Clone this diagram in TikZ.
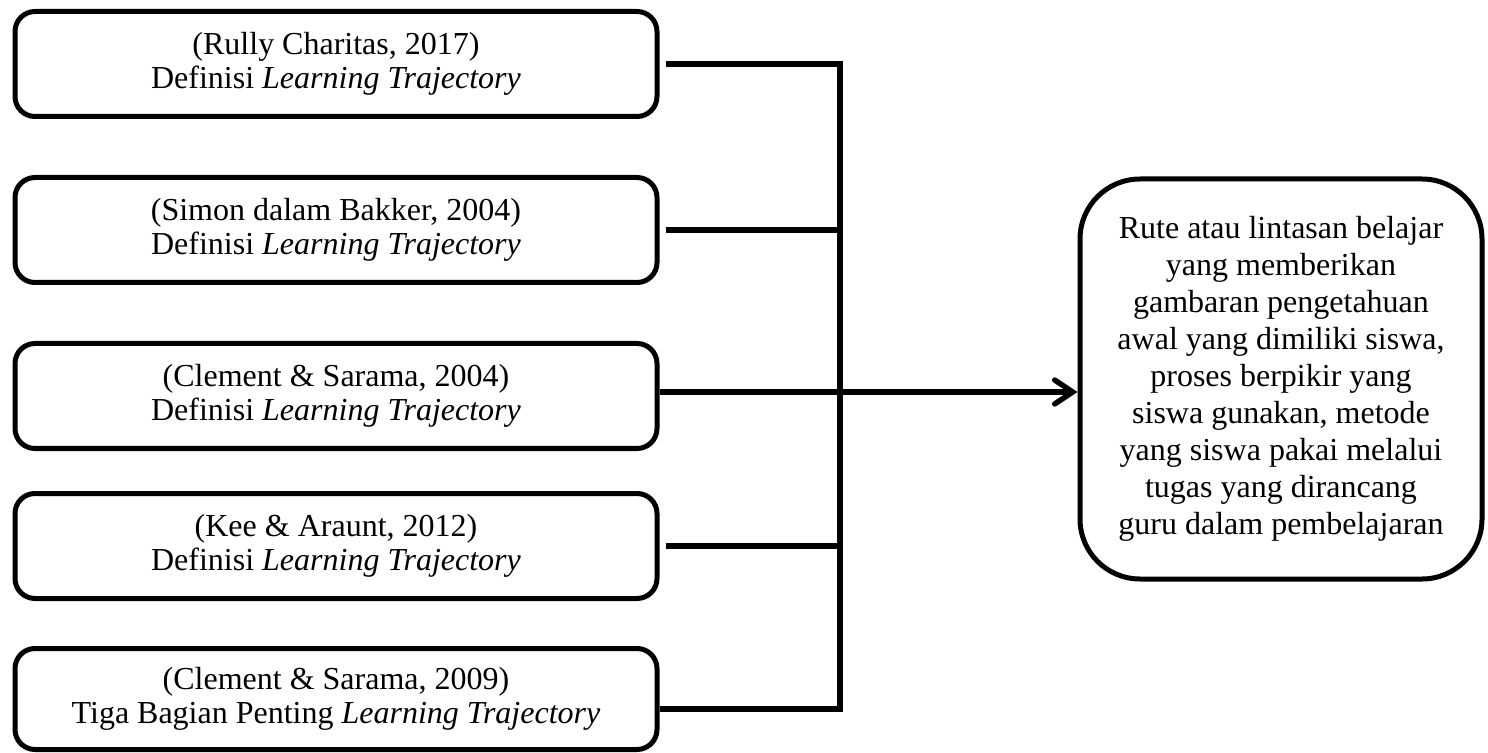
\documentclass[tikz,border=0pt]{standalone}
\usepackage{fontspec}
\setmainfont{Liberation Serif}
\usetikzlibrary{arrows.meta}

\begin{document}
\begin{tikzpicture}[x=0.5pt, y=-0.5pt,
    src/.style={draw=black, line width=2.5pt, rounded corners=10pt,
                minimum width=321pt, minimum height=52.5pt,
                font=\fontsize{16}{17}\selectfont,
                align=center, inner sep=0pt},
    goal/.style={draw=black, line width=2.5pt, rounded corners=30pt,
                 minimum width=201pt, minimum height=200pt,
                 font=\fontsize{16}{18.5}\selectfont,
                 align=center, inner sep=0pt},
    link/.style={line width=2.7pt, black},
    stub/.style={link, shorten <=3pt},
    arr/.style={link, -{Straight Barb[length=9pt, width=12pt, line cap=round]}},
]

\useasboundingbox (0,0) rectangle (1488,753);

% --- Sources (left) ---
\node[src] (b1) at (336,64)
    {(Rully Charitas, 2017)\\Definisi \textit{Learning Trajectory}};
\node[src] (b2) at (336,230)
    {(Simon dalam Bakker, 2004)\\Definisi \textit{Learning Trajectory}};
\node[src] (b3) at (336,396)
    {(Clement \& Sarama, 2004)\\Definisi \textit{Learning Trajectory}};
\node[src] (b4) at (336,546)
    {(Kee \& Araunt, 2012)\\Definisi \textit{Learning Trajectory}};
\node[src, minimum height=50.5pt] (b5) at (336,699)
    {(Clement \& Sarama, 2009)\\Tiga Bagian Penting \textit{Learning Trajectory}};

% --- Conclusion (right) ---
\node[goal] (rb) at (1281,379)
    {Rute atau lintasan belajar\\yang memberikan\\gambaran pengetahuan\\
     awal yang dimiliki siswa,\\proses berpikir yang\\siswa gunakan, metode\\
     yang siswa pakai melalui\\tugas yang dirancang\\guru dalam pembelajaran};

% Bus joining the sources
\coordinate (bus) at (840,0);
\coordinate (b5out) at ([yshift=-5pt]b5.east);
\draw[stub] (b1.east) -- (b1.east -| bus) -- (b5out -| bus) -- (b5out);
\foreach \b in {b2, b4} {
    \draw[stub] (\b.east) -- (\b.east -| bus);
}

\coordinate (b3out) at ([yshift=2pt]b3.east);
\draw[arr] (b3out) -- (b3out -| rb.west);

\end{tikzpicture}
\end{document}
